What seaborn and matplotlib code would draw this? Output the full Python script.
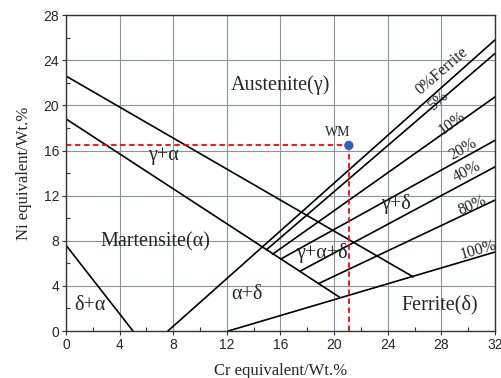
import pandas as pd
import matplotlib.pyplot as plt
from matplotlib.ticker import MultipleLocator
import seaborn as sns

# phase boundary segments, end points (Cr eq, Ni eq)
bound_names = ["upper", "lower", "delta_alpha", "f0", "f5", "f10", "f20", "f40", "f80", "f100"]
cr_from = [0.0, 0.0, 0.0, 7.6, 14.95, 15.4, 16.05, 17.46, 18.83, 12.1]
ni_from = [22.6, 18.8, 7.6, 0.0, 7.2, 6.8, 6.4, 5.3, 4.2, 0.0]
cr_to = [25.9, 20.4, 5.0, 32.0, 32.0, 32.0, 32.0, 32.0, 32.0, 32.0]
ni_to = [4.8, 3.0, 0.0, 25.8, 24.6, 20.75, 16.9, 14.55, 11.6, 7.0]

# weld metal point
wm_cr = 21.1
wm_ni = 16.45

# region labels
region_text = ["Austenite(γ)", "γ+α", "Martensite(α)", "δ+α", "α+δ", "γ+α+δ", "γ+δ", "Ferrite(δ)"]
region_cr = [16.0, 7.3, 6.7, 1.75, 13.5, 19.1, 24.6, 27.9]
region_ni = [21.8, 15.6, 7.9, 2.3, 3.2, 6.9, 11.3, 2.3]

# ferrite number labels
fn_text = ["0%Ferrite", "5%", "10%", "20%", "40%", "80%", "100%"]
fn_cr = [28.0, 27.8, 28.8, 29.6, 29.9, 30.3, 30.75]
fn_ni = [23.0, 20.4, 18.4, 16.1, 14.1, 11.1, 7.2]
fn_rot = [41, 42, 36, 30, 27, 23, 16]

rows = []
for name, x0, y0, x1, y1 in zip(bound_names, cr_from, ni_from, cr_to, ni_to):
    rows.append({"line": name, "cr": x0, "ni": y0})
    rows.append({"line": name, "cr": x1, "ni": y1})
df = pd.DataFrame(rows)

guide = pd.DataFrame({"line": ["h", "h", "v", "v"],
                      "cr": [0, wm_cr, wm_cr, wm_cr],
                      "ni": [wm_ni, wm_ni, 0, wm_ni]})

sns.set_style("white")
plt.rcParams["font.family"] = ["Liberation Serif", "DejaVu Serif"]

fig = plt.figure(figsize=(5.02, 3.78), dpi=100)
ax = fig.add_axes([0.1315, 0.1243, 0.8545, 0.8357])

sns.lineplot(data=df, x="cr", y="ni", units="line", estimator=None, sort=False,
             color="black", linewidth=1.2, ax=ax)

# guide lines to the weld metal point
sns.lineplot(data=guide, x="cr", y="ni", units="line", estimator=None, sort=False,
             color="red", linestyle=(0, (3, 2)), linewidth=1.3, ax=ax)
sns.scatterplot(x=[wm_cr], y=[wm_ni], color="#2f5fbf", s=45, edgecolor="none",
                zorder=5, ax=ax)
ax.text(wm_cr - 0.85, wm_ni + 0.6, "WM", fontsize=10, ha="center", va="bottom")

for t, x, y in zip(region_text, region_cr, region_ni):
    ax.text(x, y, t, fontsize=14.5, ha="center", va="center")

for t, x, y, r in zip(fn_text, fn_cr, fn_ni, fn_rot):
    ax.text(x, y, t, fontsize=11.5, ha="center", va="center", rotation=r,
            rotation_mode="anchor")

ax.set_xlim(0, 32)
ax.set_ylim(0, 28)
ax.xaxis.set_major_locator(MultipleLocator(4))
ax.yaxis.set_major_locator(MultipleLocator(4))
ax.xaxis.set_minor_locator(MultipleLocator(2))
ax.yaxis.set_minor_locator(MultipleLocator(2))
ax.grid(True, which="major", color="#8c93a0", linewidth=0.8)
ax.set_axisbelow(True)
ax.tick_params(which="major", direction="out", length=3, width=0.8, color="#333333",
               labelsize=10, labelfontfamily="Liberation Sans", pad=2,
               bottom=True, left=True)
ax.tick_params(which="minor", direction="in", length=3, width=0.8, color="#333333",
               bottom=True, left=True)
for s in ax.spines.values():
    s.set_color("#333333")
    s.set_linewidth(1.0)

ax.set_xlabel("Cr equivalent/Wt.%", fontsize=12, labelpad=8)
ax.set_ylabel("Ni equivalent/Wt.%", fontsize=12, labelpad=8)

fig.savefig("out.png", dpi=100)
